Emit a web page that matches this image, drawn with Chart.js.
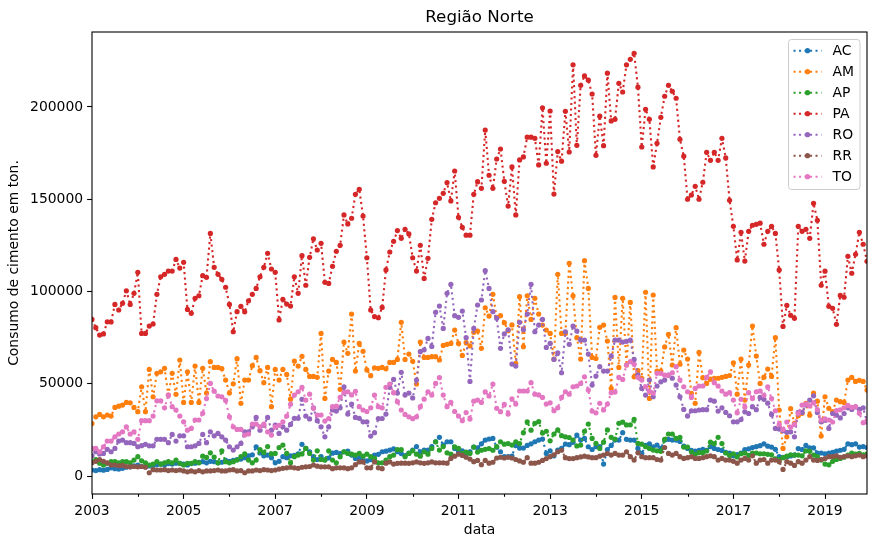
<!DOCTYPE html>
<html><head><meta charset="utf-8">
<script src="https://cdn.jsdelivr.net/npm/chart.js@4.4.0/dist/chart.umd.min.js"></script>
<style>html,body{margin:0;padding:0;background:#fff;}canvas{display:block;}</style>
</head><body>
<canvas id="c" width="876" height="547"></canvas>
<script>
// Monthly values, Jan 2003 .. Dec 2019, in thousands of tons
const START_YEAR = 2003;
const UNIT = 1000;
const SERIES_NAMES = ['AC','AM','AP','PA','RO','RR','TO'];
const COLORS = ['#1f77b4','#ff7f0e','#2ca02c','#d62728','#9467bd','#8c564b','#e377c2'];

const AC = [
3.3,3.0,3.5,3.2,3.6,4.5,4.0,3.8,4.2,4.8,5.0,5.5,
6.0,5.2,5.0,5.5,5.8,6.2,6.5,6.0,6.8,6.5,7.0,6.9,
6.5,6.0,6.8,7.0,7.5,7.8,7.2,8.0,7.8,7.2,7.5,8.5,
8.0,8.5,9.0,9.2,10.0,11.0,11.5,15.9,12.5,11.0,11.4,10.0,
7.2,8.0,10.5,10.0,11.0,11.2,12.0,17.2,15.0,13.2,10.5,9.0,
10.5,8.8,9.8,12.4,12.8,12.2,13.2,13.5,11.4,9.6,9.6,8.5,
8.2,8.9,11.4,11.8,13.2,13.5,14.1,14.7,13.2,12.2,11.1,12.4,
14.1,16.0,13.2,14.1,14.1,16.0,18.6,21.0,16.8,18.6,18.6,15.0,
13.2,13.7,12.4,13.2,15.7,15.3,17.5,19.5,20.1,20.4,15.7,13.2,
10.5,10.5,10.9,16.6,15.2,15.2,16.6,17.5,18.6,19.5,20.1,12.3,
13.7,11.0,14.1,15.0,17.4,17.0,18.3,22.2,19.5,20.4,15.9,14.4,
15.9,16.0,6.5,14.4,16.6,19.5,19.5,23.5,19.9,19.5,19.5,15.0,
12.3,16.6,17.5,15.9,16.8,15.0,19.5,19.9,19.5,19.5,18.8,16.3,
15.0,14.0,13.5,14.0,14.5,14.0,16.0,15.0,14.4,13.9,12.8,12.5,
11.0,11.6,12.5,14.3,14.8,15.5,16.0,16.5,17.5,16.2,15.7,14.5,
10.5,10.1,10.5,10.9,11.4,14.9,14.4,16.6,15.3,15.3,12.5,12.5,
12.1,12.5,12.9,13.5,14.0,14.5,17.5,17.0,17.5,15.7,16.0,15.5];

const AM = [
28.5,32.1,33.4,32.1,33.1,32.5,37.2,37.9,38.5,39.9,39.7,37.2,
34.9,48.4,34.9,57.8,43.0,55.7,56.5,58.4,43.9,55.7,44.3,62.9,
39.9,56.5,39.9,59.6,39.9,58.4,45.0,62.0,58.9,58.9,58.2,52.0,
45.0,50.0,63.6,39.4,52.0,52.0,59.8,64.3,57.1,50.6,58.9,37.6,
57.8,52.0,57.8,55.1,41.7,62.3,59.6,64.9,57.8,54.0,54.0,53.5,
77.3,42.1,56.9,63.2,61.6,47.0,72.6,66.5,87.8,56.9,71.9,67.6,
57.5,54.4,58.7,58.4,58.9,58.1,61.6,61.6,63.2,83.3,63.2,66.1,
62.2,49.9,72.6,64.3,64.3,64.7,64.7,62.9,70.8,71.4,71.9,79.1,
71.9,65.4,72.3,70.5,77.9,78.6,69.2,91.2,86.7,98.5,86.0,86.9,
83.1,78.8,81.9,61.1,97.2,70.1,97.7,84.9,96.3,87.8,81.8,79.1,
77.3,63.4,109.3,77.3,77.3,115.3,97.7,75.0,63.4,116.7,101.7,64.3,
63.7,80.6,81.8,73.2,47.5,96.8,58.9,96.3,60.2,94.1,53.8,57.1,
53.0,99.6,42.1,98.1,56.9,56.9,70.0,76.8,60.2,80.4,60.6,68.3,
63.4,44.8,39.4,67.0,53.3,50.2,52.5,53.0,53.0,53.5,54.0,54.5,
61.4,44.4,63.4,41.2,60.2,81.3,65.0,50.2,53.6,58.0,54.0,75.0,
35.8,15.0,21.3,36.5,28.6,32.7,34.0,39.4,33.0,45.0,40.6,21.7,
43.0,36.7,35.0,41.2,40.3,39.9,52.0,53.5,51.3,51.9,51.3,46.6];

const AP = [
7.8,9.0,7.0,6.0,6.9,7.8,7.8,7.2,7.8,7.8,7.2,8.7,
10.5,8.3,7.2,6.0,6.5,7.8,6.5,7.2,7.8,7.2,8.7,6.9,
6.0,6.9,6.9,7.8,7.2,10.8,10.1,12.6,10.3,7.2,13.7,7.8,
7.2,7.8,8.7,10.5,12.0,8.7,7.2,8.7,14.3,12.8,16.0,12.0,
12.3,15.5,16.8,12.3,7.2,10.5,11.4,12.0,15.0,12.3,8.7,13.7,
9.0,8.7,13.7,8.7,7.2,10.5,13.2,12.3,11.9,11.4,12.3,10.8,
11.9,10.5,9.6,7.2,7.2,8.7,10.5,11.4,14.3,14.3,10.5,12.3,
13.7,11.9,10.8,13.2,11.9,15.0,18.6,14.1,16.0,12.6,11.9,15.9,
15.0,12.3,13.0,12.3,15.7,13.0,14.0,14.5,14.9,14.0,16.0,18.6,
17.3,17.6,16.8,18.6,17.6,23.5,29.4,24.9,28.6,29.5,23.3,24.3,
19.1,22.8,25.0,21.9,21.3,20.9,19.5,16.3,16.8,24.3,28.2,20.4,
17.7,15.0,18.4,25.0,21.0,20.0,28.6,29.2,27.7,27.8,30.7,17.7,
17.3,15.9,15.0,14.1,13.7,13.4,19.9,22.8,22.8,20.4,21.0,15.7,
15.7,13.2,11.8,12.7,12.7,13.6,18.4,17.6,21.0,17.6,12.5,11.2,
12.1,10.4,12.1,12.5,11.2,12.5,12.5,12.1,12.1,11.8,11.5,9.3,
9.0,10.0,10.8,11.5,11.4,11.4,11.0,13.7,13.4,11.4,10.5,8.7,
6.5,6.1,8.0,9.0,9.6,10.2,11.4,12.5,11.9,12.3,11.5,12.0];

const PA = [
84.9,80.4,76.4,77.0,83.6,83.5,93.0,90.0,93.6,100.4,93.0,99.0,
110.4,77.3,77.3,81.3,82.4,98.5,108.0,109.3,111.1,111.1,117.4,112.7,
115.8,90.3,88.2,96.3,97.7,108.6,107.7,131.5,113.1,109.3,106.6,102.3,
93.0,78.2,89.1,92.0,89.0,95.0,98.5,101.7,108.0,113.1,120.7,112.2,
110.4,84.6,95.8,93.2,92.1,108.0,99.0,119.4,103.4,118.5,128.6,122.5,
126.1,105.0,104.4,113.7,121.8,125.0,141.5,136.6,139.7,152.7,155.4,140.9,
118.3,90.0,86.4,85.8,91.4,111.7,121.4,127.2,133.0,128.8,133.7,131.2,
118.3,111.1,125.0,107.1,118.0,139.1,148.1,150.5,153.2,159.0,149.1,165.3,
140.2,134.8,130.5,130.5,152.7,159.5,155.9,187.5,163.0,155.9,171.8,177.2,
159.7,146.3,167.5,141.5,171.3,172.9,183.6,183.6,183.0,168.6,199.5,169.5,
197.8,152.8,175.8,170.6,197.6,175.6,222.8,179.2,211.7,216.8,214.5,207.0,
173.8,195.0,179.0,218.3,192.4,193.3,212.8,208.1,222.8,225.8,229.1,210.7,
178.3,198.7,193.3,167.5,180.3,194.4,205.8,211.7,208.5,204.7,182.5,173.3,
150.0,152.3,157.0,150.0,159.2,175.4,171.1,175.4,171.1,183.0,172.4,149.4,
135.3,117.1,132.1,116.5,132.6,135.9,136.4,137.0,125.6,132.6,135.3,131.5,
111.7,81.1,92.5,87.1,85.5,135.3,132.6,133.7,128.8,147.8,138.6,103.4,
111.0,92.0,90.9,82.2,97.9,96.9,119.1,109.9,120.2,132.1,125.6,116.4];

const RO = [
11.0,13.2,12.0,12.3,14.5,13.2,15.0,19.0,19.5,18.1,18.1,17.7,
15.9,16.5,17.2,16.4,16.4,19.9,19.9,19.9,18.1,22.6,19.0,21.8,
21.8,15.9,15.9,16.4,17.7,22.6,18.1,24.0,21.8,23.1,21.3,19.5,
15.9,14.1,15.9,17.7,24.0,24.0,26.7,31.8,24.9,27.6,31.8,24.9,
27.6,23.1,26.7,24.9,28.0,31.3,31.3,41.6,32.5,31.0,37.0,30.0,
26.7,21.3,26.7,35.8,35.2,37.0,48.4,33.6,39.0,31.8,31.3,29.4,
29.4,21.7,23.5,31.2,31.2,33.6,48.1,52.4,45.0,56.2,43.9,45.0,
42.3,52.0,67.4,68.4,74.6,70.2,88.7,92.1,80.0,99.0,103.9,86.9,
86.0,89.4,75.0,51.3,80.0,92.7,95.4,111.3,101.7,89.1,85.5,69.2,
77.0,79.3,60.7,59.6,83.3,79.3,87.8,103.9,78.2,81.8,84.9,69.7,
71.9,63.2,66.8,56.0,78.2,71.4,81.3,78.6,73.7,73.7,66.1,49.3,
54.2,59.3,56.9,56.9,65.0,73.7,73.7,72.6,73.0,73.7,63.2,54.8,
47.5,43.9,52.0,43.0,48.8,51.1,52.0,54.7,53.0,49.3,43.0,36.1,
32.5,35.4,35.4,35.8,36.0,36.0,41.2,40.6,35.2,37.0,34.5,32.7,
29.4,29.4,30.6,34.8,33.9,37.6,36.0,42.6,41.6,39.5,33.4,25.8,
25.5,24.6,23.7,24.0,21.3,34.5,34.5,38.5,41.2,43.5,34.5,29.4,
30.3,25.8,33.9,33.0,31.5,33.9,37.0,36.1,37.5,36.1,37.0,29.3];

const RR = [
7.2,8.0,9.0,8.0,7.2,6.0,6.0,5.6,5.8,5.2,5.0,5.2,
5.0,5.2,4.8,1.8,3.5,3.3,3.3,3.5,3.0,3.3,3.0,3.3,
2.8,2.3,2.8,2.3,3.0,2.3,2.8,2.8,3.0,3.3,2.8,2.8,
3.3,3.5,2.8,3.0,1.8,2.8,2.8,3.3,3.0,3.5,3.3,3.0,
3.3,3.8,4.2,4.5,4.8,4.5,4.2,4.8,5.0,5.2,6.0,5.4,
5.0,5.0,5.0,4.0,4.5,4.5,4.5,4.0,4.5,6.2,7.7,7.7,
4.5,4.5,7.7,4.5,4.0,7.0,7.7,6.5,6.9,7.0,7.0,6.9,
7.2,7.7,7.2,6.9,7.2,7.7,7.2,7.2,7.2,7.0,9.6,10.8,
11.9,11.2,10.2,9.2,7.8,8.5,6.2,8.5,7.0,7.5,9.8,10.2,
9.8,10.2,9.8,9.0,8.2,7.5,10.0,7.0,7.0,7.5,8.5,9.5,
10.5,11.5,13.2,14.0,10.0,9.5,9.5,10.0,10.4,10.8,10.4,10.0,
10.0,10.8,11.4,12.3,11.4,12.3,11.4,11.4,13.2,10.5,8.7,12.6,
10.5,10.0,10.0,10.0,9.0,8.7,15.5,12.3,11.4,12.3,10.5,9.6,
10.0,10.5,9.6,9.6,10.0,10.5,11.0,10.5,8.7,9.6,8.7,8.7,
8.0,7.0,8.7,9.6,8.7,11.0,7.0,8.7,9.0,7.0,8.7,8.7,
7.8,3.6,7.8,7.0,5.8,7.8,7.0,8.7,10.5,8.7,8.5,9.0,
9.5,10.5,10.5,11.0,10.2,10.5,11.0,10.5,11.0,11.4,10.5,11.0];

const TO = [
15.0,15.0,13.2,15.9,19.0,19.0,21.3,22.8,24.0,26.7,22.8,24.0,
19.9,30.0,30.0,30.0,32.5,40.8,40.8,37.0,43.9,37.6,35.8,32.5,
29.4,24.9,25.8,30.4,30.4,34.0,42.0,50.2,46.0,43.4,43.0,41.0,
32.1,26.7,25.3,25.3,22.2,22.8,28.2,28.2,26.7,28.2,24.0,22.2,
26.7,27.5,29.4,32.5,38.9,43.9,45.7,48.1,41.2,44.4,36.7,33.1,
33.1,29.8,31.2,37.6,37.9,42.6,45.2,45.7,44.0,45.9,37.6,35.8,
35.0,37.0,43.9,37.6,37.0,48.1,49.9,45.2,40.3,35.8,33.4,32.1,
31.1,32.1,37.6,41.7,45.7,43.9,50.2,53.3,43.9,37.6,39.9,35.0,
32.5,30.0,34.4,30.9,40.6,41.2,39.9,45.7,43.4,49.9,36.7,34.9,
38.9,33.6,41.9,39.0,46.1,46.1,46.1,50.6,44.4,44.0,42.6,39.0,
39.7,35.4,37.0,42.6,45.7,44.4,48.4,48.8,50.2,53.8,46.6,35.2,
34.3,39.4,35.8,39.0,45.2,45.5,53.5,52.4,60.2,62.0,60.6,53.5,
52.0,48.4,46.0,45.0,55.7,55.7,54.7,54.7,56.0,59.3,52.0,48.4,
45.7,42.6,47.5,48.8,48.8,53.5,56.5,50.6,48.8,46.1,44.4,45.2,
41.2,34.3,41.6,37.4,45.2,42.0,45.7,46.1,43.8,48.4,42.0,35.4,
28.0,25.3,29.3,26.5,28.0,34.0,38.5,39.0,38.0,39.7,36.0,30.4,
31.0,30.4,29.3,35.5,35.9,37.0,38.3,37.2,37.6,34.0,28.9,30.0];

const Y_TICKS = [0, 50000, 100000, 150000, 200000];
const X_TICK_YEARS = [2003,2004,2005,2006,2007,2008,2009,2010,2011,2012,2013,2014,2015,2016,2017,2018,2019];
const TITLE = 'Região Norte';
const X_LABEL = 'data';
const Y_LABEL = 'Consumo de cimento em ton.';

const SERIES = [AC, AM, AP, PA, RO, RR, TO];
const FONT = 'DejaVu Sans';
const DASH = [2.1, 3.4];

const datasets = SERIES.map((vals, i) => ({
  label: SERIES_NAMES[i],
  data: vals.map((v, k) => ({x: k, y: v * UNIT})),
  borderColor: COLORS[i],
  backgroundColor: COLORS[i],
  borderWidth: 2.1,
  borderDash: DASH,
  borderJoinStyle: 'round',
  borderCapStyle: 'butt',
  pointRadius: 2.6,
  pointBorderWidth: 0,
  pointBackgroundColor: COLORS[i],
  tension: 0,
  fill: false,
  order: SERIES.length - i
}));

const isMajorYear = v => ((v / 12) % 2) === 0;

const decor = {
  id: 'decor',
  afterDatasetsDraw(chart) {
    const ctx = chart.ctx, a = chart.chartArea, xs = chart.scales.x;
    ctx.save();
    // frame
    ctx.strokeStyle = '#000'; ctx.lineWidth = 1.1; ctx.setLineDash([]);
    ctx.strokeRect(a.left, a.top, a.right - a.left, a.bottom - a.top);
    // minor ticks (even years)
    X_TICK_YEARS.forEach(yr => {
      const v = (yr - START_YEAR) * 12;
      if (!isMajorYear(v)) {
        const px = Math.round(xs.getPixelForValue(v)) + 0.5;
        ctx.beginPath(); ctx.moveTo(px, a.bottom); ctx.lineTo(px, a.bottom + 2.8); ctx.stroke();
      }
    });
    // title
    ctx.fillStyle = '#000';
    ctx.font = '16.7px "' + FONT + '"';
    ctx.textAlign = 'center'; ctx.textBaseline = 'middle';
    ctx.fillText(TITLE, (a.left + a.right) / 2, 18);
    // legend
    const lx = 788.5, ly = 39.5, lw = 71.5, lh = 150, r = 3;
    ctx.beginPath();
    ctx.moveTo(lx + r, ly); ctx.lineTo(lx + lw - r, ly); ctx.arcTo(lx + lw, ly, lx + lw, ly + r, r);
    ctx.lineTo(lx + lw, ly + lh - r); ctx.arcTo(lx + lw, ly + lh, lx + lw - r, ly + lh, r);
    ctx.lineTo(lx + r, ly + lh); ctx.arcTo(lx, ly + lh, lx, ly + lh - r, r);
    ctx.lineTo(lx, ly + r); ctx.arcTo(lx, ly, lx + r, ly, r); ctx.closePath();
    ctx.fillStyle = 'rgba(255,255,255,0.8)'; ctx.fill();
    ctx.strokeStyle = '#cccccc'; ctx.lineWidth = 1; ctx.stroke();
    ctx.font = '13.9px "' + FONT + '"';
    ctx.textAlign = 'left';
    chart.data.datasets.forEach((ds, i) => {
      const y = 50.7 + i * 21;
      ctx.strokeStyle = ds.borderColor; ctx.lineWidth = 2.1; ctx.setLineDash(DASH);
      ctx.beginPath(); ctx.moveTo(793.5, y); ctx.lineTo(821.5, y); ctx.stroke();
      ctx.setLineDash([]);
      ctx.fillStyle = ds.borderColor;
      ctx.beginPath(); ctx.arc(807.5, y, 2.6, 0, Math.PI * 2); ctx.fill();
      ctx.fillStyle = '#000';
      ctx.fillText(ds.label, 832.5, y + 0.5);
    });
    ctx.restore();
  }
};

new Chart(document.getElementById('c'), {
  type: 'line',
  data: { datasets },
  plugins: [decor],
  options: {
    responsive: false,
    devicePixelRatio: 1,
    animation: false,
    events: [],
    layout: { padding: { top: 32, right: 9, left: 0, bottom: 0 } },
    plugins: { legend: { display: false }, tooltip: { enabled: false }, title: { display: false } },
    scales: {
      x: {
        type: 'linear',
        min: 0,
        max: SERIES[0].length - 1,
        afterBuildTicks: s => { s.ticks = X_TICK_YEARS.map(y => ({ value: (y - START_YEAR) * 12 })); },
        afterFit: s => { s.height = 53; },
        ticks: {
          autoSkip: false, maxRotation: 0, padding: 4,
          color: '#000', font: { family: FONT, size: 13.9 },
          callback: v => isMajorYear(v) ? String(START_YEAR + v / 12) : ''
        },
        grid: {
          drawOnChartArea: false, drawTicks: true, tickLength: 4.9, tickWidth: 1.1,
          tickColor: c => (c.tick && isMajorYear(c.tick.value)) ? '#000' : 'rgba(0,0,0,0)'
        },
        border: { display: false },
        title: { display: true, text: X_LABEL, color: '#000', font: { family: FONT, size: 13.9 }, padding: { top: 0, bottom: 8 } }
      },
      y: {
        type: 'linear',
        min: -9700,
        max: 240600,
        afterBuildTicks: s => { s.ticks = Y_TICKS.map(v => ({ value: v })); },
        afterFit: s => { s.width = 92; },
        ticks: { padding: 4, color: '#000', font: { family: FONT, size: 13.9 }, callback: v => String(v) },
        grid: { drawOnChartArea: false, drawTicks: true, tickLength: 4.9, tickWidth: 1.1, tickColor: '#000' },
        border: { display: false },
        title: { display: true, text: Y_LABEL, color: '#000', font: { family: FONT, size: 13.9 }, padding: { top: 6, bottom: 0 } }
      }
    }
  }
});
</script>
</body></html>
